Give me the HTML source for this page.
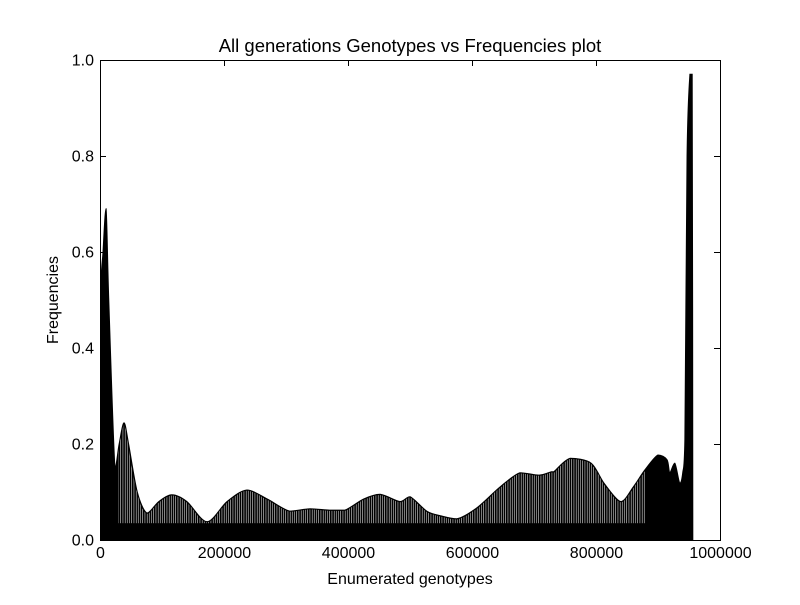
<!DOCTYPE html>
<html><head><meta charset="utf-8"><style>
body{margin:0;background:#fff}
svg text{font-family:"Liberation Sans","DejaVu Sans",sans-serif;fill:#000}
</style></head><body>
<svg width="800" height="600" viewBox="0 0 800 600">
<defs>
<pattern id="stripes" patternUnits="userSpaceOnUse" width="2.2" height="10">
<rect x="0" y="0" width="1.7" height="10" fill="#000"/>
</pattern>
<clipPath id="plotclip"><rect x="100" y="60" width="620" height="480"/></clipPath>
</defs>
<rect x="0" y="0" width="800" height="600" fill="#fff"/>
<g id="marks" clip-path="url(#plotclip)"></g>
<g id="axes"></g>
<text x="410" y="52" font-size="18.5" text-anchor="middle">All generations Genotypes vs Frequencies plot</text>
<text x="410" y="584" font-size="16" text-anchor="middle">Enumerated genotypes</text>
<text x="58" y="300" font-size="16" text-anchor="middle" transform="rotate(-90 58 300)">Frequencies</text>
</svg>
<script>
const genotypes = [0, 1000, 5000, 9700, 14000, 24000, 31000, 38700, 46000, 60000, 75800, 95000, 116000, 140000, 172600, 205000, 237000, 270000, 306000, 338700, 370000, 395000, 425000, 451600, 483900, 500000, 527000, 550000, 575800, 608000, 645000, 677400, 708000, 728000, 732000, 758000, 792000, 813000, 840000, 860000, 879000, 900000, 914500, 919000, 927000, 935000, 940000, 943500, 947000, 951600, 955000, 956000];
const freqs = [0, 0.49, 0.6, 0.69, 0.5, 0.15, 0.2, 0.244, 0.2, 0.1, 0.056, 0.08, 0.094, 0.08, 0.038, 0.08, 0.104, 0.085, 0.06, 0.065, 0.062, 0.062, 0.085, 0.095, 0.08, 0.09, 0.06, 0.05, 0.044, 0.067, 0.11, 0.14, 0.135, 0.142, 0.142, 0.17, 0.16, 0.118, 0.08, 0.11, 0.146, 0.177, 0.167, 0.14, 0.16, 0.118, 0.14, 0.21, 0.8, 0.97, 0.97, 0];
const xTicks = [0, 200000, 400000, 600000, 800000, 1000000];
const xTickLabels = ["0", "200000", "400000", "600000", "800000", "1000000"];
const yTicks = [0, 0.2, 0.4, 0.6, 0.8, 1.0];
const yTickLabels = ["0.0", "0.2", "0.4", "0.6", "0.8", "1.0"];
const denseStart = 30000, denseEnd = 880000, baseBand = 0.035;

const X0 = 100, X1 = 720, Y0 = 540, Y1 = 60;
const xs = v => X0 + (v - 0) / 1000000 * (X1 - X0);
const ys = v => Y0 - v / 1.0 * (Y0 - Y1);
const NS = "http://www.w3.org/2000/svg";
const marks = document.getElementById('marks');
const axes = document.getElementById('axes');

const pts = genotypes.map((g, i) => [xs(g), ys(freqs[i])]);
let d = `M${pts[0][0]},${ys(0)} L${pts[0][0]},${pts[0][1]}`;
for (let i = 0; i < pts.length - 1; i++) {
  const p0 = pts[Math.max(0, i - 1)], p1 = pts[i], p2 = pts[i + 1], p3 = pts[Math.min(pts.length - 1, i + 2)];
  const t = 0.15;
  const lo = Math.min(p1[1], p2[1]), hi = Math.max(p1[1], p2[1]);
  let c1y = p1[1] + (p2[1] - p0[1]) * t, c2y = p2[1] - (p3[1] - p1[1]) * t;
  c1y = Math.min(hi, Math.max(lo, c1y)); c2y = Math.min(hi, Math.max(lo, c2y));
  const c1x = p1[0] + (p2[0] - p0[0]) * t, c2x = p2[0] - (p3[0] - p1[0]) * t;
  d += ` C${c1x},${c1y} ${c2x},${c2y} ${p2[0]},${p2[1]}`;
}
d += ` L${pts[pts.length - 1][0]},${ys(0)} Z`;

const area = document.createElementNS(NS, 'path');
area.setAttribute('d', d);
area.setAttribute('fill', 'url(#stripes)');
area.setAttribute('stroke', '#000');
area.setAttribute('stroke-width', '1.2');


marks.appendChild(area);

const cp = document.createElementNS(NS, 'clipPath');
cp.setAttribute('id', 'areaclip');
const cpPath = document.createElementNS(NS, 'path');
cpPath.setAttribute('d', d);
cp.appendChild(cpPath);
document.querySelector('defs').appendChild(cp);

const solid = document.createElementNS(NS, 'g');
solid.setAttribute('clip-path', 'url(#areaclip)');


[[0, denseStart], [denseEnd, 1000000]].forEach(([a, b]) => {
  const r = document.createElementNS(NS, 'rect');
  r.setAttribute('x', xs(a)); r.setAttribute('y', Y1);
  r.setAttribute('width', xs(b) - xs(a)); r.setAttribute('height', Y0 - Y1);
  r.setAttribute('fill', '#000');
  
  
  solid.appendChild(r);
});
const band = document.createElementNS(NS, 'rect');
band.setAttribute('x', X0); band.setAttribute('y', ys(baseBand));
band.setAttribute('width', X1 - X0); band.setAttribute('height', Y0 - ys(baseBand));
band.setAttribute('fill', '#000');


solid.appendChild(band);
marks.appendChild(solid);

function line(x1, y1, x2, y2, name) {
  const l = document.createElementNS(NS, 'line');
  l.setAttribute('x1', x1); l.setAttribute('y1', y1); l.setAttribute('x2', x2); l.setAttribute('y2', y2);
  l.setAttribute('stroke', '#000'); l.setAttribute('stroke-width', '1');
  
  
  axes.appendChild(l);
}
function text(x, y, s, anchor, name) {
  const t = document.createElementNS(NS, 'text');
  t.setAttribute('x', x); t.setAttribute('y', y); t.setAttribute('font-size', '16');
  t.setAttribute('text-anchor', anchor); t.textContent = s;
  
  
  axes.appendChild(t);
}
const frame = document.createElementNS(NS, 'rect');
frame.setAttribute('x', X0 + 0.5); frame.setAttribute('y', Y1 + 0.5);
frame.setAttribute('width', X1 - X0); frame.setAttribute('height', Y0 - Y1);
frame.setAttribute('fill', 'none'); frame.setAttribute('stroke', '#000');


axes.appendChild(frame);
xTicks.forEach((v, i) => {
  const x = Math.round(xs(v)) + 0.5;
  line(x, Y0, x, Y0 - 6, 'x-tick');
  line(x, Y1, x, Y1 + 6, 'x-tick-top');
  text(x, Y0 + 18, xTickLabels[i], 'middle', 'x-tick-label');
});
yTicks.forEach((v, i) => {
  const y = Math.round(ys(v)) + 0.5;
  line(X0, y, X0 + 6, y, 'y-tick');
  line(X1, y, X1 - 6, y, 'y-tick-right');
  text(X0 - 6, y + 5, yTickLabels[i], 'end', 'y-tick-label');
});
</script>
</body></html>
